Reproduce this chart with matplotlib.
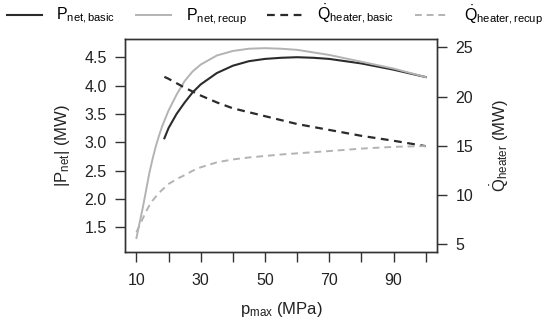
import numpy as np
import matplotlib.pyplot as plt

plt.rcParams['font.family'] = ['Liberation Sans', 'DejaVu Sans']
plt.rcParams['mathtext.fontset'] = 'custom'
plt.rcParams['mathtext.rm'] = 'Liberation Sans'
plt.rcParams['mathtext.it'] = 'Liberation Sans:italic'

# -------------------------------
# data
# -------------------------------
p_recup = [10, 11, 12, 13, 14, 15, 16, 17, 18, 20, 22.5, 25, 27.5, 30, 35, 40, 45, 50, 55, 60, 70, 80, 90, 100]
pnet_recup = [1.31, 1.58, 1.85, 2.15, 2.45, 2.70, 2.92, 3.11, 3.28, 3.56, 3.84, 4.08, 4.25, 4.37, 4.53, 4.61, 4.65, 4.66, 4.65, 4.63, 4.54, 4.42, 4.30, 4.15]
q_recup = [6.2, 6.9, 7.6, 8.3, 8.9, 9.4, 9.8, 10.2, 10.5, 11.1, 11.6, 12.0, 12.45, 12.8, 13.3, 13.6, 13.8, 13.95, 14.1, 14.22, 14.45, 14.7, 14.88, 14.96]

p_basic = [18.7, 20, 22.5, 25, 27.5, 30, 35, 40, 45, 50, 55, 60, 65, 70, 80, 90, 100]
pnet_basic = [3.07, 3.25, 3.50, 3.70, 3.88, 4.02, 4.22, 4.35, 4.43, 4.47, 4.49, 4.50, 4.49, 4.47, 4.39, 4.28, 4.15]
q_basic = [22.0, 21.8, 21.35, 20.9, 20.5, 20.1, 19.4, 18.8, 18.4, 18.0, 17.6, 17.2, 16.9, 16.6, 16.0, 15.5, 14.95]

dark = '#2b2b2b'
light = '#b3b3b3'

# -------------------------------
# plotting
# -------------------------------
fig = plt.figure(figsize=(5.5, 3.23), dpi=100)
ax1 = fig.add_axes([0.227, 0.22, 0.568, 0.659])
ax2 = ax1.twinx()

l1, = ax1.plot(p_basic, pnet_basic, color=dark, lw=1.5, label=r'$\mathrm{P}_{\mathrm{net,basic}}$')
l2, = ax1.plot(p_recup, pnet_recup, color=light, lw=1.4, label=r'$\mathrm{P}_{\mathrm{net,recup}}$')
l3, = ax2.plot(p_basic, q_basic, color=dark, lw=1.6, ls=(0, (3.5, 2.5)), label=r'$\dot{\mathrm{Q}}_{\mathrm{heater,basic}}$')
l4, = ax2.plot(p_recup, q_recup, color=light, lw=1.4, ls=(0, (3.5, 2.5)), label=r'$\dot{\mathrm{Q}}_{\mathrm{heater,recup}}$')

ax1.set_xlim(6.4, 103.6)
ax1.set_ylim(1.064, 4.82)
ax2.set_ylim(4.19, 25.84)

ax1.set_xticks(np.arange(10, 101, 10))
ax1.set_xticklabels(['10', '', '30', '', '50', '', '70', '', '90', ''])
ax1.set_yticks(np.arange(1.5, 4.6, 0.5))
ax1.set_yticklabels(['%.1f' % v for v in np.arange(1.5, 4.6, 0.5)])
ax2.set_yticks([5, 10, 15, 20, 25])

for ax in (ax1, ax2):
    ax.tick_params(direction='out', length=7, width=1, color='#333333', labelsize=11.5, labelcolor='#222222', pad=6)
    for s in ax.spines.values():
        s.set_color('#333333')
        s.set_linewidth(1)
ax1.tick_params(axis='x', pad=8)

ax1.set_xlabel(r'$\mathrm{p}_{\mathrm{max}}$ (MPa)', fontsize=12, color='#222222', labelpad=9)
ax1.set_ylabel(r'|$\mathrm{P}_{\mathrm{net}}$| (MW)', fontsize=12, color='#222222', labelpad=9)
ax2.set_ylabel(r'$\dot{\mathrm{Q}}_{\mathrm{heater}}$ (MW)', fontsize=12, color='#222222', labelpad=11)

fig.legend(handles=[l1, l2, l3, l4], loc='upper center', bbox_to_anchor=(0.5, 1.035), ncol=4,
           frameon=False, fontsize=11.5, handlelength=2.2, columnspacing=1.3, handletextpad=0.9)

fig.savefig('out.png', dpi=100)
